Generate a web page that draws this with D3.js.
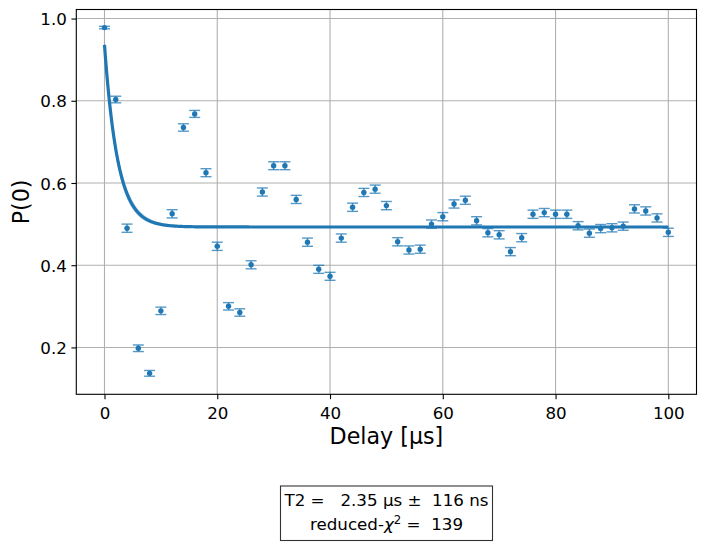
<!DOCTYPE html>
<html>
<head>
<meta charset="utf-8">
<script src="https://cdn.jsdelivr.net/npm/d3@7"></script>
<style>
  body { margin: 0; background: #fff; }
  text { font-family: "DejaVu Sans", sans-serif; }
</style>
</head>
<body>
<div id="chart-container"></div>
<script>
// delay in µs
const delays = [0, 2, 4, 6, 8, 10, 12, 14, 16, 18, 20, 22, 24, 26, 28, 30, 32, 34, 36, 38, 40,
  42, 44, 46, 48, 50, 52, 54, 56, 58, 60, 62, 64, 66, 68, 70, 72, 74, 76, 78, 80,
  82, 84, 86, 88, 90, 92, 94, 96, 98, 100];
// measured P(0)
const p0 = [0.978, 0.803, 0.490, 0.198, 0.137, 0.289, 0.525, 0.735, 0.768, 0.625, 0.446,
  0.300, 0.285, 0.401, 0.578, 0.642, 0.642, 0.560, 0.456, 0.390, 0.373,
  0.466, 0.541, 0.577, 0.585, 0.545, 0.457, 0.437, 0.439, 0.500, 0.518,
  0.549, 0.558, 0.508, 0.479, 0.474, 0.433, 0.467, 0.524, 0.528, 0.524,
  0.524, 0.496, 0.478, 0.489, 0.491, 0.495, 0.537, 0.532, 0.515, 0.480];
const p0err = [0.003, 0.008, 0.010, 0.008, 0.007, 0.009, 0.010, 0.009, 0.0085, 0.0097, 0.010,
  0.009, 0.009, 0.0098, 0.0099, 0.0096, 0.0096, 0.0099, 0.010, 0.0098, 0.0097,
  0.010, 0.010, 0.0099, 0.0099, 0.010, 0.010, 0.0099, 0.0099, 0.010, 0.010,
  0.010, 0.0099, 0.010, 0.010, 0.010, 0.0099, 0.010, 0.010, 0.010, 0.010,
  0.010, 0.010, 0.010, 0.010, 0.010, 0.010, 0.010, 0.010, 0.010, 0.010];

// fit result
const fitAmp = 0.443;
const fitAmpErr = 0.015;
const fitOffset = 0.493;
const fitOffsetErr = 0.0025;
const fitT2 = 2.35;     // µs
const fitT2err = 0.116; // µs

const xTicks = [0, 20, 40, 60, 80, 100];
const yTicks = [0.2, 0.4, 0.6, 0.8, 1.0];
const textLines = ["T2 =   2.35 µs ±  116 ns"];
const chiLabel = ["reduced-", "χ", "2", " =  139"];

const width = 706, height = 546;
const mLeft = 76.3, mRight = 696.5, mTop = 9.5, mBottom = 394.3;
const blue = "#1f77b4";

const svg = d3.select("#chart-container")
  .append("svg")
  .attr("width", width)
  .attr("height", height);

const x = d3.scaleLinear().domain([-5, 105]).range([mLeft, mRight]);
const y = d3.scaleLinear().domain([0.086, 1.022]).range([mBottom, mTop]);

// grid
svg.append("g")
  .selectAll("line")
  .data(xTicks)
  .enter()
  .append("line")
  .attr("x1", d => x(d)).attr("x2", d => x(d))
  .attr("y1", mTop).attr("y2", mBottom)
  .attr("stroke", "#b0b0b0").attr("stroke-width", 1.1);
svg.append("g")
  .selectAll("line")
  .data(yTicks)
  .enter()
  .append("line")
  .attr("x1", mLeft).attr("x2", mRight)
  .attr("y1", d => y(d)).attr("y2", d => y(d))
  .attr("stroke", "#b0b0b0").attr("stroke-width", 1.1);

// fit band and line
const fitT = d3.range(0, 100.001, 0.1);
const model = (t, A, T2, off) => off + A * Math.exp(-t / T2);
const band = d3.area()
  .x(t => x(t))
  .y0(t => y(model(t, fitAmp - fitAmpErr, fitT2 - fitT2err, fitOffset - fitOffsetErr)))
  .y1(t => y(model(t, fitAmp + fitAmpErr, fitT2 + fitT2err, fitOffset + fitOffsetErr)));
svg.append("path")
  .datum(fitT)
  .attr("d", band)
  .attr("fill", blue)
  .attr("fill-opacity", 0.3);
svg.append("path")
  .datum(fitT)
  .attr("d", d3.line().x(t => x(t)).y(t => y(model(t, fitAmp, fitT2, fitOffset))))
  .attr("fill", "none")
  .attr("stroke", blue)
  .attr("stroke-width", 3.2);

// error bars
const pts = delays.map((d, i) => ({ t: d, p: p0[i], e: p0err[i] }));
const eb = svg.append("g")
  .attr("stroke", blue)
  .attr("stroke-opacity", 0.75)
  .attr("stroke-width", 1.4);
eb.selectAll(".bar")
  .data(pts)
  .enter()
  .append("line")
  .attr("x1", d => x(d.t)).attr("x2", d => x(d.t))
  .attr("y1", d => y(d.p - d.e)).attr("y2", d => y(d.p + d.e));
eb.selectAll(".capt")
  .data(pts)
  .enter()
  .append("line")
  .attr("x1", d => x(d.t) - 5.5).attr("x2", d => x(d.t) + 5.5)
  .attr("y1", d => y(d.p + d.e)).attr("y2", d => y(d.p + d.e));
eb.selectAll(".capb")
  .data(pts)
  .enter()
  .append("line")
  .attr("x1", d => x(d.t) - 5.5).attr("x2", d => x(d.t) + 5.5)
  .attr("y1", d => y(d.p - d.e)).attr("y2", d => y(d.p - d.e));

// markers
svg.append("g")
  .selectAll("circle")
  .data(pts)
  .enter()
  .append("circle")
  .attr("cx", d => x(d.t))
  .attr("cy", d => y(d.p))
  .attr("r", 2.7)
  .attr("fill", blue);

// axes
const xAxis = svg.append("g")
  .attr("transform", `translate(0,${mBottom})`)
  .call(d3.axisBottom(x).tickValues(xTicks).tickSize(4.9).tickPadding(4.5).tickFormat(d3.format("d")));
const yAxis = svg.append("g")
  .attr("transform", `translate(${mLeft},0)`)
  .call(d3.axisLeft(y).tickValues(yTicks).tickSize(4.9).tickPadding(4.5).tickFormat(d3.format(".1f")));
[xAxis, yAxis].forEach(a => {
  a.select(".domain").remove();
  a.selectAll("line").attr("stroke", "#000").attr("stroke-width", 1.1);
  a.selectAll("text")
    .attr("fill", "#000")
    .style("font-family", "DejaVu Sans")
    .style("font-size", "16.7px");
});
xAxis.selectAll("text").attr("dy", null).attr("y", 25);
yAxis.selectAll("text").attr("dy", null).attr("y", 6.1);

// frame
svg.append("rect")
  .attr("x", mLeft).attr("y", mTop)
  .attr("width", mRight - mLeft).attr("height", mBottom - mTop)
  .attr("fill", "none")
  .attr("stroke", "#000")
  .attr("stroke-width", 1.1);

// axis labels
svg.append("text")
  .attr("x", (mLeft + mRight) / 2)
  .attr("y", 443.5)
  .attr("text-anchor", "middle")
  .style("font-size", "22.2px")
  .text("Delay [µs]");
svg.append("text")
  .attr("transform", `translate(28.5,${(mTop + mBottom) / 2}) rotate(-90)`)
  .attr("text-anchor", "middle")
  .style("font-size", "22.2px")
  .text("P(0)");

// fit report box
svg.append("rect")
  .attr("x", 280.5).attr("y", 486)
  .attr("width", 212).attr("height", 54.5)
  .attr("fill", "#fff")
  .attr("stroke", "#333")
  .attr("stroke-width", 1.1);
svg.append("text")
  .attr("x", 386.5).attr("y", 506)
  .attr("text-anchor", "middle")
  .style("font-size", "16.7px")
  .style("white-space", "pre")
  .text(textLines[0]);
const chi = svg.append("text")
  .attr("x", 386.5).attr("y", 530)
  .attr("text-anchor", "middle")
  .style("font-size", "16.7px")
  .style("white-space", "pre");
chi.append("tspan").text(chiLabel[0]);
chi.append("tspan").style("font-style", "italic").text(chiLabel[1]);
chi.append("tspan").attr("dy", -6.5).style("font-size", "11.7px").text(chiLabel[2]);
chi.append("tspan").attr("dy", 6.5).text(chiLabel[3]);
</script>
</body>
</html>
